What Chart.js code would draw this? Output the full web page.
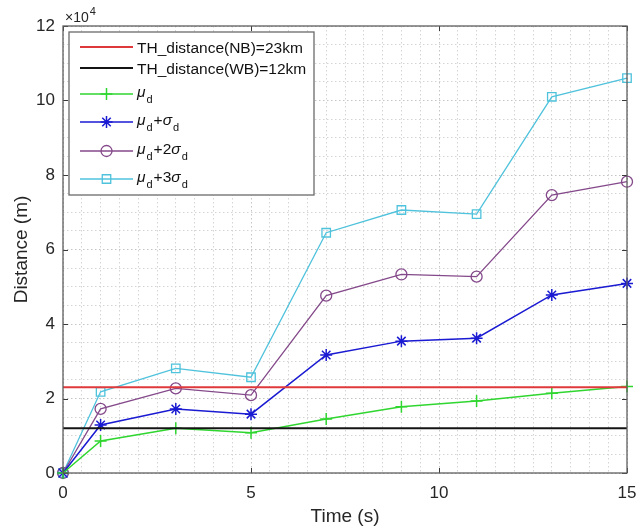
<!DOCTYPE html>
<html>
<head>
<meta charset="utf-8">
<script src="https://cdn.jsdelivr.net/npm/chart.js@4/dist/chart.umd.min.js"></script>
<style>
  html, body { margin: 0; padding: 0; background: #ffffff; }
  #wrap { width: 636px; height: 531px; }
</style>
</head>
<body>
<div id="wrap"><canvas id="c" width="636" height="531"></canvas></div>
<script>
// Sampling instants (s)
const timeSec = [0, 1, 3, 5, 7, 9, 11, 13, 15];

// Distance statistics (m)
const muD          = [0,  8600, 12000, 10800, 14500, 17800, 19300,  21400,  23200];
const muPlusSigma  = [0, 12900, 17200, 15800, 31700, 35400, 36200,  47800,  50900];
const muPlus2Sigma = [0, 17200, 22700, 20900, 47600, 53300, 52700,  74600,  78200];
const muPlus3Sigma = [0, 21800, 28100, 25700, 64500, 70600, 69500, 101000, 106000];

// Threshold distances (m)
const thresholdNB = 23000;
const thresholdWB = 12000;

// Labelled ticks (x in s, y in units of 10^4 m)
const xTickLabels = [0, 5, 10, 15];
const yTickLabels = [0, 2, 4, 6, 8, 10, 12];
const yScaleFactor = 1e4;

const FONT = "'Liberation Sans', Arial, Helvetica, sans-serif";
const TEXT = '#262626';

const pts = ys => timeSec.map((t, i) => ({ x: t, y: ys[i] }));
const hline = v => [{ x: timeSec[0], y: v }, { x: timeSec[timeSec.length - 1], y: v }];

const datasets = [
  { label: 'TH_distance(NB)=23km', data: hline(thresholdNB), borderColor: '#e0393b', borderWidth: 2, pointRadius: 0,
    legendText: [{ t: 'TH_distance(NB)=23km' }] },
  { label: 'TH_distance(WB)=12km', data: hline(thresholdWB), borderColor: '#141414', borderWidth: 2, pointRadius: 0,
    legendText: [{ t: 'TH_distance(WB)=12km' }] },
  { label: 'mu_d', data: pts(muD), borderColor: '#2fd62f', borderWidth: 1.5,
    pointStyle: 'cross', pointRadius: 6, pointBorderWidth: 1.5,
    legendText: [{ t: 'μ', it: true }, { t: 'd', sub: true }] },
  { label: 'mu_d+sigma_d', data: pts(muPlusSigma), borderColor: '#1a1ad2', borderWidth: 1.5,
    pointStyle: 'star', pointRadius: 6, pointBorderWidth: 1.5,
    legendText: [{ t: 'μ', it: true }, { t: 'd', sub: true }, { t: '+' }, { t: 'σ', it: true }, { t: 'd', sub: true }] },
  { label: 'mu_d+2sigma_d', data: pts(muPlus2Sigma), borderColor: '#84498a', borderWidth: 1.3,
    pointStyle: 'circle', pointRadius: 5.5, pointBorderWidth: 1.3,
    legendText: [{ t: 'μ', it: true }, { t: 'd', sub: true }, { t: '+2' }, { t: 'σ', it: true }, { t: 'd', sub: true }] },
  { label: 'mu_d+3sigma_d', data: pts(muPlus3Sigma), borderColor: '#4fc2dc', borderWidth: 1.3,
    pointStyle: 'rect', pointRadius: 6, pointBorderWidth: 1.3,
    legendText: [{ t: 'μ', it: true }, { t: 'd', sub: true }, { t: '+3' }, { t: 'σ', it: true }, { t: 'd', sub: true }] }
].map(d => Object.assign({
  fill: false, tension: 0, clip: false,
  pointBackgroundColor: 'rgba(0,0,0,0)', pointBorderColor: d.borderColor,
  pointHoverRadius: d.pointRadius
}, d));

const isMajor = (v, step) => Math.abs(v / step - Math.round(v / step)) < 1e-6;

// Box, inward tick marks, exponent label and legend drawn on top of the plot
const axesDecor = {
  id: 'axesDecor',
  afterDraw(chart) {
    const { ctx, chartArea: a, scales } = chart;
    const xs = scales.x, ys = scales.y;
    ctx.save();

    // inward tick marks on all four sides
    ctx.strokeStyle = '#3a3a3a';
    ctx.lineWidth = 1;
    const tl = 5;
    ctx.beginPath();
    xTickLabels.forEach(v => {
      const px = Math.round(xs.getPixelForValue(v)) + 0.5;
      ctx.moveTo(px, a.bottom); ctx.lineTo(px, a.bottom - tl);
      ctx.moveTo(px, a.top); ctx.lineTo(px, a.top + tl);
    });
    yTickLabels.forEach(v => {
      const py = Math.round(ys.getPixelForValue(v * yScaleFactor)) + 0.5;
      ctx.moveTo(a.left, py); ctx.lineTo(a.left + tl, py);
      ctx.moveTo(a.right, py); ctx.lineTo(a.right - tl, py);
    });
    ctx.stroke();

    // axes box
    ctx.strokeStyle = '#5e5e5e';
    ctx.lineWidth = 1.3;
    ctx.strokeRect(a.left, a.top, a.right - a.left, a.bottom - a.top);

    // exponent label above the y axis
    ctx.fillStyle = TEXT;
    ctx.textBaseline = 'alphabetic';
    ctx.textAlign = 'left';
    ctx.font = `14px ${FONT}`;
    ctx.fillText('×10', a.left + 2, a.top - 4);
    const w10 = ctx.measureText('×10').width;
    ctx.font = `11px ${FONT}`;
    ctx.fillText('4', a.left + 3 + w10, a.top - 11);

    // legend
    const box = { x: 69, y: 32, w: 245, h: 163 };
    ctx.fillStyle = '#ffffff';
    ctx.fillRect(box.x, box.y, box.w, box.h);
    ctx.strokeStyle = '#6a6a6a';
    ctx.lineWidth = 1.3;
    ctx.strokeRect(box.x, box.y, box.w, box.h);

    const rowY = [47, 68, 94, 122, 151, 179];
    const lineX0 = 80, lineX1 = 133, textX = 137;
    chart.data.datasets.forEach((ds, i) => {
      const y = rowY[i];
      ctx.strokeStyle = ds.borderColor;
      ctx.lineWidth = ds.borderWidth;
      ctx.beginPath();
      ctx.moveTo(lineX0, y); ctx.lineTo(lineX1, y);
      ctx.stroke();
      if (ds.pointRadius > 0) {
        ctx.fillStyle = 'rgba(0,0,0,0)';
        ctx.lineWidth = ds.pointBorderWidth;
        Chart.helpers.drawPoint(ctx, {
          pointStyle: ds.pointStyle, radius: ds.pointRadius, rotation: 0, borderWidth: ds.pointBorderWidth
        }, (lineX0 + lineX1) / 2, y);
      }
      // rich text with italic Greek letters and subscripts
      let x = textX;
      const base = ds.legendText.length > 1 ? y + 3 : y + 5.5;
      ctx.fillStyle = '#111111';
      ds.legendText.forEach(p => {
        if (p.sub) {
          ctx.font = `11px ${FONT}`;
          ctx.fillText(p.t, x + 0.5, base + 6);
          x += ctx.measureText(p.t).width + 1.5;
        } else {
          ctx.font = `${p.it ? 'italic ' : ''}15.5px ${FONT}`;
          ctx.fillText(p.t, x, base);
          x += ctx.measureText(p.t).width + (p.it ? 0.5 : 0);
        }
      });
    });
    ctx.restore();
  }
};

new Chart(document.getElementById('c'), {
  type: 'line',
  data: { datasets },
  options: {
    responsive: false,
    animation: false,
    devicePixelRatio: 1,
    layout: { padding: { top: 26, right: 9, bottom: 0, left: 0 } },
    plugins: { legend: { display: false }, tooltip: { enabled: false } },
    scales: {
      x: {
        type: 'linear', min: 0, max: 15,
        afterFit: s => { s.height = 58; s.paddingLeft = 0; s.paddingRight = 0; },
        ticks: {
          stepSize: 0.5, autoSkip: false, maxRotation: 0, padding: 10,
          color: TEXT, font: { family: FONT, size: 17 },
          callback: v => (xTickLabels.some(t => Math.abs(t - v) < 1e-6) ? String(v) : '')
        },
        grid: {
          drawTicks: false, lineWidth: 1,
          color: c => (isMajor(c.tick.value, 5) ? '#c4c4c4' : '#d4d4d4')
        },
        border: { display: false, dash: [1.5, 2.5] },
        title: {
          display: true, text: 'Time (s)', color: TEXT,
          font: { family: FONT, size: 19 }, padding: { top: 0, bottom: 3 }
        }
      },
      y: {
        type: 'linear', min: 0, max: 120000,
        afterFit: s => { s.width = 63; s.paddingTop = 0; s.paddingBottom = 0; },
        ticks: {
          stepSize: 5000, autoSkip: false, padding: 8,
          color: TEXT, font: { family: FONT, size: 17 },
          callback: v => (yTickLabels.some(t => Math.abs(t * yScaleFactor - v) < 1e-3) ? String(v / yScaleFactor) : '')
        },
        grid: {
          drawTicks: false, lineWidth: 1,
          color: c => (isMajor(c.tick.value, 20000) ? '#c4c4c4' : '#d4d4d4')
        },
        border: { display: false, dash: [1.5, 2.5] },
        title: {
          display: true, text: 'Distance (m)', color: TEXT,
          font: { family: FONT, size: 19 }, padding: { top: 10, bottom: 0 }
        }
      }
    }
  },
  plugins: [axesDecor]
});
</script>
</body>
</html>
